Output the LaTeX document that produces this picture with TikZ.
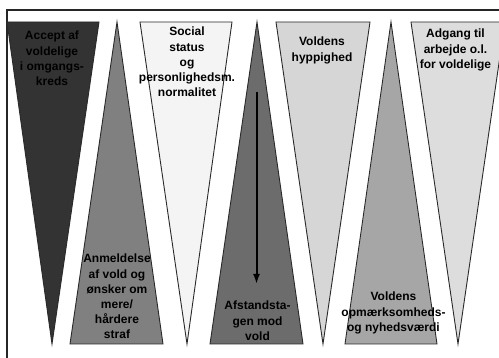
\documentclass[tikz,border=0pt]{standalone}
\usepackage{fontspec}
\setmainfont{Liberation Sans}
\usetikzlibrary{arrows.meta}
\definecolor{cA}{HTML}{333333}
\definecolor{cB}{HTML}{808080}
\definecolor{cC}{HTML}{F4F4F4}
\definecolor{cD}{HTML}{6C6C6C}
\definecolor{cE}{HTML}{D6D6D6}
\definecolor{cF}{HTML}{A6A6A6}
\definecolor{cG}{HTML}{DDDDDD}
\definecolor{edge}{HTML}{2A2A2A}
\definecolor{txt}{HTML}{000000}
\tikzset{
  tri/.style={draw=edge, line width=0.9pt, line join=miter},
  lbl/.style={anchor=north, align=center, inner sep=0pt, text=txt,
    font=\bfseries\fontsize{12}{15.2}\selectfont},
  frame/.style={draw=black!85, line width=2pt}
}
\begin{document}
\begin{tikzpicture}[x=1pt,y=-1pt]
\useasboundingbox (0,0) rectangle (499,358);
\clip (0,0) rectangle (499,358);
\fill[white] (0,0) rectangle (499,358);
\draw[frame] (7,10.5) rectangle (520,380);
% triangles
\draw[tri, fill=cA] (7,22) -- (99,22) -- (52,344) -- cycle;
\draw[tri, fill=cB] (117,22) -- (163,344) -- (70,344) -- cycle;
\draw[tri, fill=cC] (140,22) -- (232,22) -- (187,344) -- cycle;
\draw[tri, fill=cD] (257,22) -- (303,344) -- (210,344) -- cycle;
\draw[tri, fill=cE] (276,22) -- (370,22) -- (323,344) -- cycle;
\draw[tri, fill=cF] (391,22) -- (437,344) -- (345,344) -- cycle;
\draw[tri, fill=cG] (411,22) -- (505,22) -- (458,344) -- cycle;
% arrow
\coordinate (arrS) at (256.5,92);
\coordinate (arrE) at (256.5,284);
\draw[line width=2pt, -{Latex[length=10pt,width=7pt]}] (arrS) -- (arrE);
% labels
\node[lbl] (t1) at (52,31) {Accept af\\voldelige\\i omgangs-\\kreds};
\node[lbl] (t2) at (117,254) {Anmeldelse\\af vold og\\ønsker om\\mere/\\hårdere\\straf};
\node[lbl] (t3) at (187,27) {Social\\status\\og\\personlighedsm.\\normalitet};
\node[lbl] (t4) at (257.5,301) {Afstandsta-\\gen mod\\vold};
\node[lbl] (t5) at (322,37) {Voldens\\hyppighed};
\node[lbl] (t6) at (393.5,292) {Voldens\\opmærksomheds-\\og nyhedsværdi};
\node[lbl] (t7) at (455.5,29) {Adgang til\\arbejde o.l.\\for voldelige};
\end{tikzpicture}
\end{document}
